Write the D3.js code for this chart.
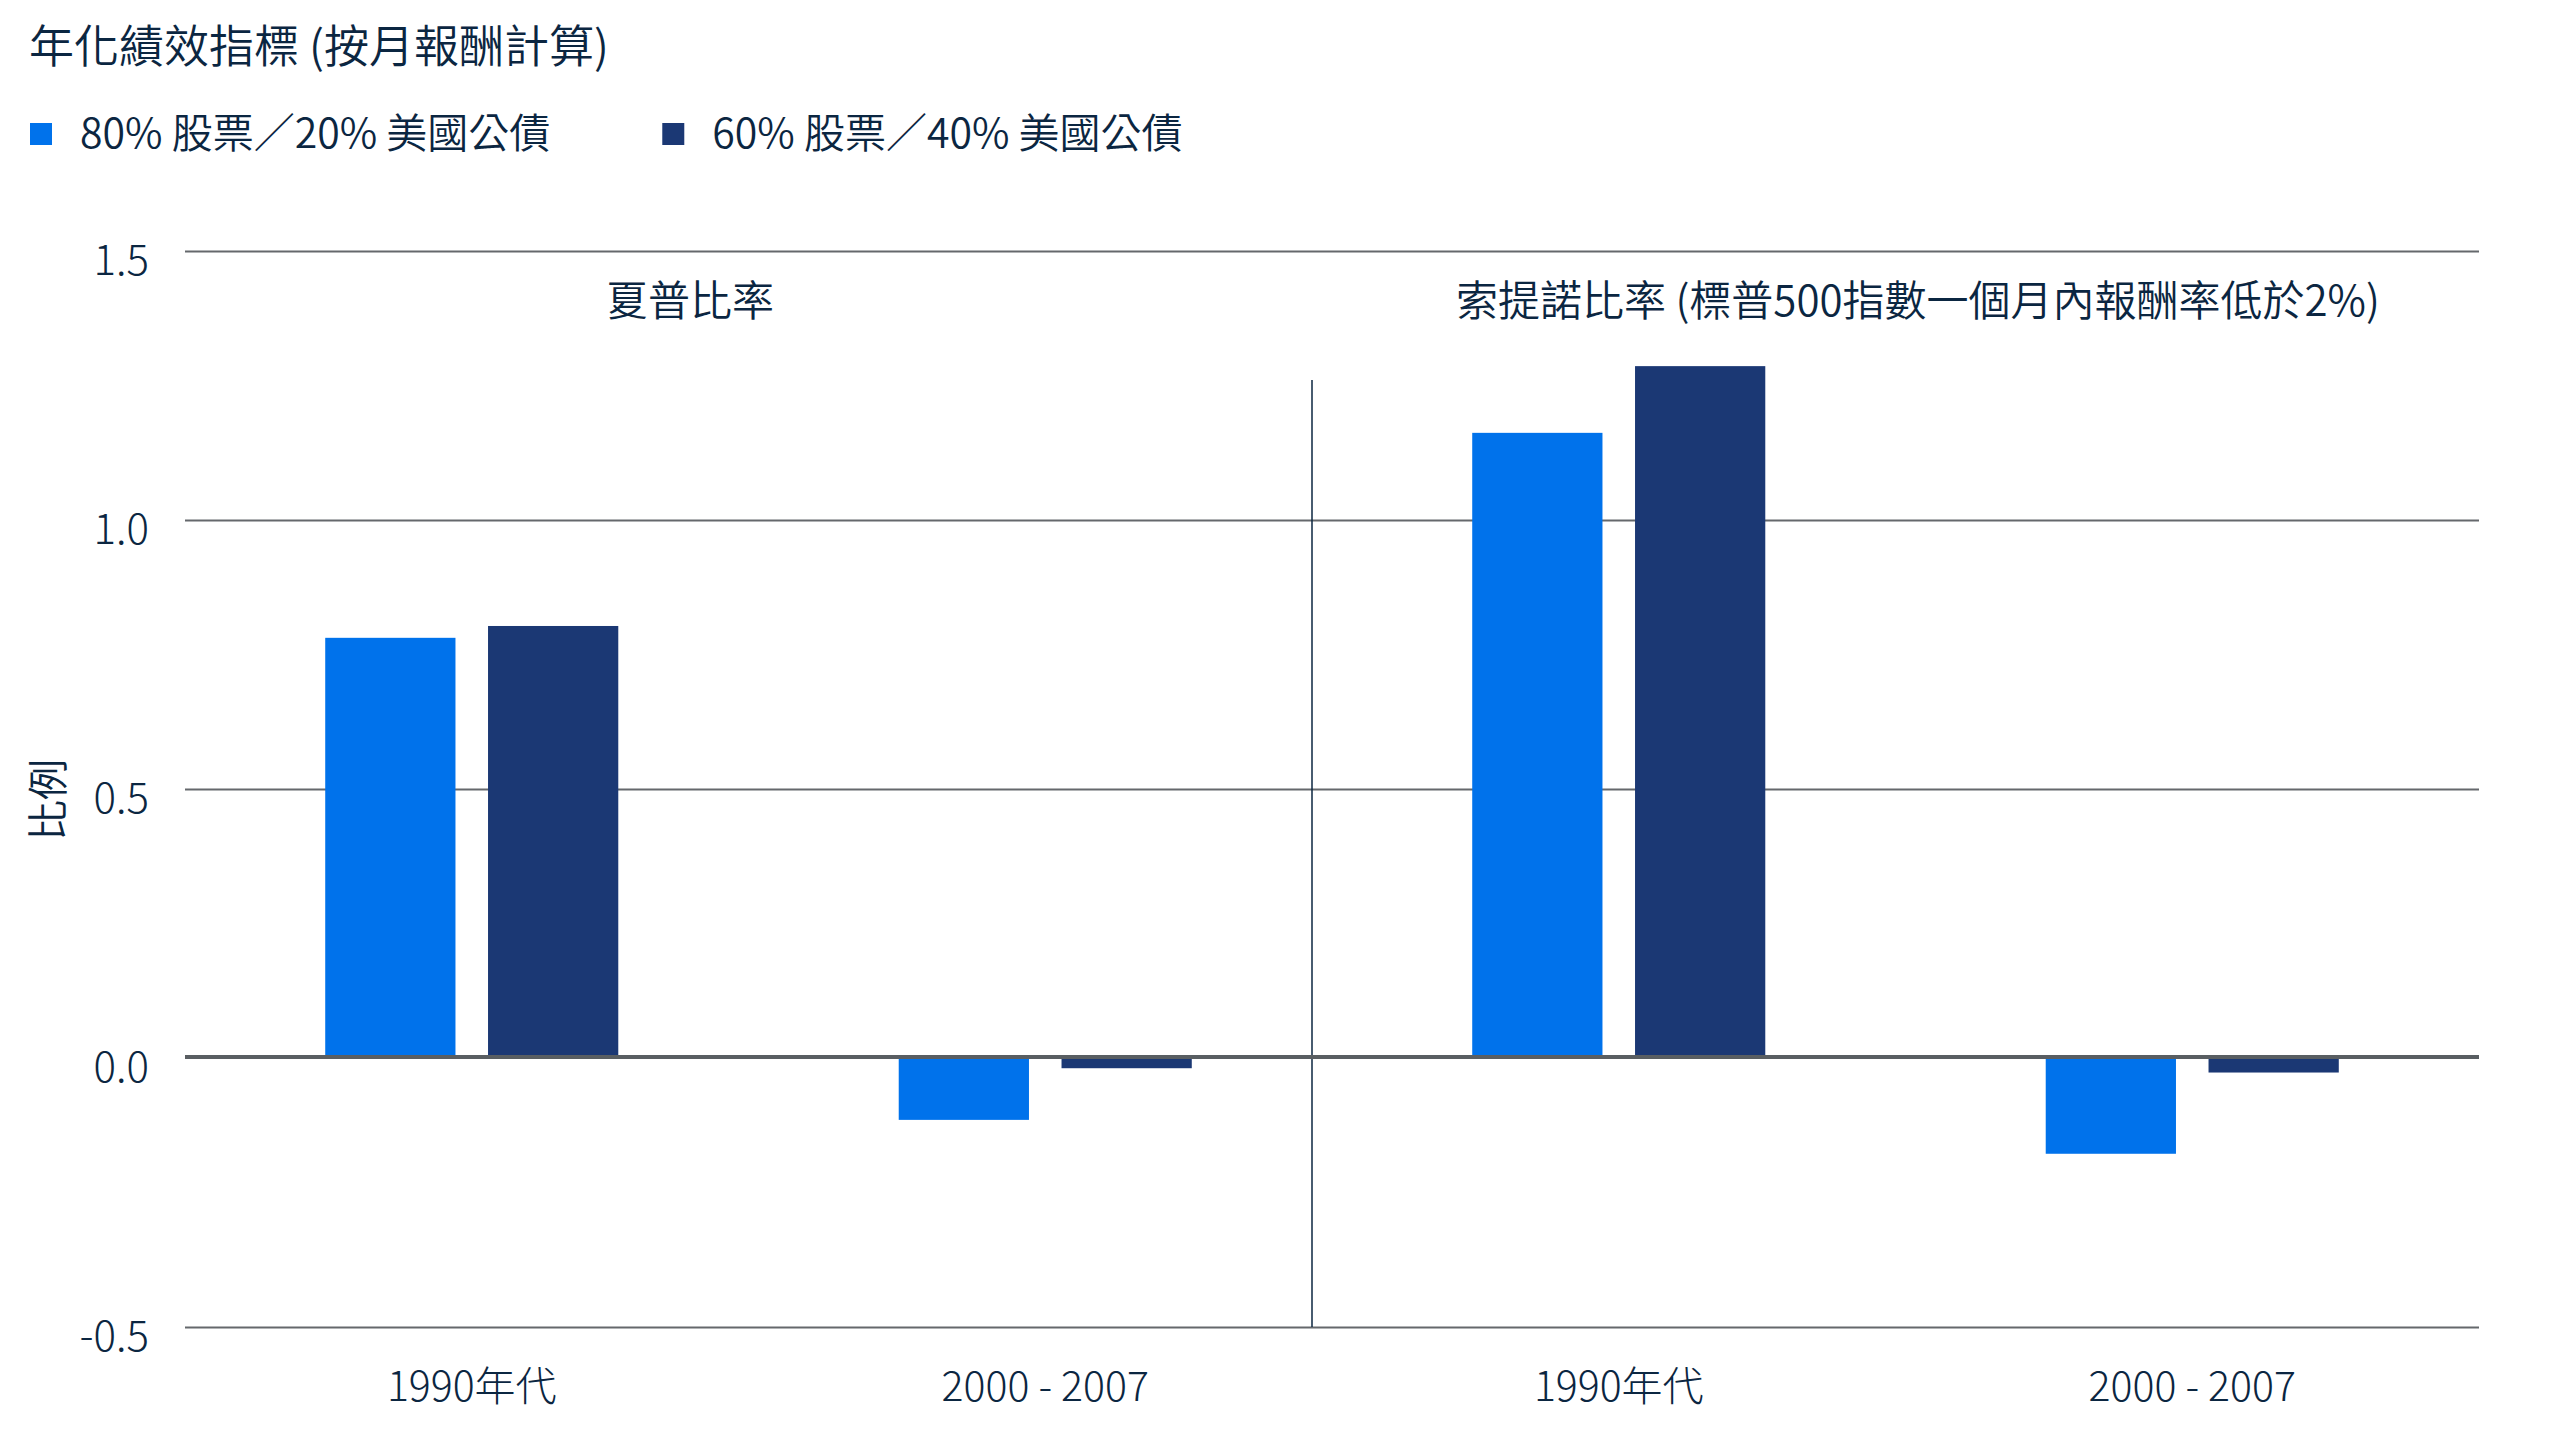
<!DOCTYPE html>
<meta charset="utf-8">
<style>
  body { margin: 0; background: #fff; }
  svg text { font-family: "Noto Sans CJK TC", "Noto Sans", sans-serif; fill: #0b2641; }
</style>
<div id="chart"></div>
<script src="https://cdn.jsdelivr.net/npm/d3@7"></script>
<script>
    // data
    var facets = ["夏普比率", "索提諾比率 (標普500指數一個月內報酬率低於2%)"];
    var periods = ["1990年代", "2000 - 2007"];
    var seriesNames = ["80% 股票／20% 美國公債", "60% 股票／40% 美國公債"];
    var sharpe80 = [0.781, -0.115];
    var sharpe60 = [0.803, -0.019];
    var sortino80 = [1.162, -0.178];
    var sortino60 = [1.286, -0.027];
    var yTicks = [-0.5, 0, 0.5, 1.0, 1.5];
    var yTickLabels = ["-0.5", "0.0", "0.5", "1.0", "1.5"];
    var chartTitle = "年化績效指標 (按月報酬計算)";
    var yTitle = "比例";

    var colors = ["#0072EB", "#1B3874"];
    var width = 2560, height = 1440;
    var plotLeft = 185, plotRight = 2479, plotTop = 251, plotBottom = 1327;

    var svg = d3.select("#chart").append("svg").attr("width", width).attr("height", height);

    var rows = [];
    [[sharpe80, sharpe60], [sortino80, sortino60]].forEach(function(f, fi) {
        periods.forEach(function(p, pi) {
            seriesNames.forEach(function(s, si) {
                rows.push({facet: facets[fi], period: p, series: s, value: f[si][pi]});
            });
        });
    });

    // scales
    var y = d3.scaleLinear().domain([-0.5, 1.5]).range([plotBottom, plotTop]);
    var fx = d3.scaleBand().domain(facets).range([plotLeft, plotRight]);
    var x0 = d3.scaleBand().domain(periods).range([0, fx.bandwidth()]).paddingInner(0.489).paddingOuter(0.2445);
    var x1 = d3.scaleBand().domain(seriesNames).range([0, x0.bandwidth()]).paddingInner(0.2);
    var color = d3.scaleOrdinal().domain(seriesNames).range(colors);

    // title
    svg.append("text").attr("x", 29).attr("y", 63)
        .style("font-size", "45px").style("font-weight", 350).text(chartTitle);

    // legend
    var lx = 30;
    seriesNames.forEach(function(s) {
        var g = svg.append("g").attr("transform", "translate(" + lx + ",0)");
        g.append("rect").attr("x", 0).attr("y", 123).attr("width", 22).attr("height", 22).attr("fill", color(s));
        var t = g.append("text").attr("x", 50).attr("y", 148)
            .style("font-size", "41px").style("font-weight", 350).text(s);
        lx += 50 + t.node().getComputedTextLength() + 112;
    });

    // gridlines + y labels
    var yAxis = svg.append("g")
        .attr("transform", "translate(" + plotLeft + ",0)")
        .call(d3.axisLeft(y).tickValues(yTicks).tickSize(-(plotRight - plotLeft)).tickPadding(36)
            .tickFormat(function(d, i) { return yTickLabels[i]; }));
    yAxis.select(".domain").remove();
    yAxis.selectAll(".tick line").attr("stroke", "#65686c").attr("stroke-width", 2)
        .filter(function(d) { return d === 0; }).remove();
    yAxis.selectAll(".tick text")
        .attr("dy", "0.55em")
        .style("font-size", "42px").style("font-weight", 300)
        .attr("fill", "#0b2641");

    // y title
    svg.append("text")
        .attr("transform", "translate(63,800) rotate(-90)")
        .attr("text-anchor", "middle")
        .style("font-size", "41px").style("font-weight", 350)
        .text(yTitle);

    // facet separator
    svg.append("line")
        .attr("x1", fx(facets[1]) - 20).attr("x2", fx(facets[1]) - 20)
        .attr("y1", 380).attr("y2", plotBottom)
        .attr("stroke", "#0b2641").attr("stroke-width", 1.5);

    // facet titles
    var facetCenters = [(48 + fx(facets[1])) / 2, (fx(facets[1]) + 2504) / 2];
    facets.forEach(function(f, i) {
        svg.append("text")
            .attr("x", facetCenters[i]).attr("y", 316)
            .attr("text-anchor", "middle")
            .style("font-size", "42px").style("font-weight", 350)
            .text(f);
    });

    // bars
    svg.selectAll("rect.bar")
        .data(rows)
        .enter()
        .append("rect")
        .attr("class", "bar")
        .attr("x", function(d) { return fx(d.facet) + x0(d.period) + x1(d.series); })
        .attr("width", x1.bandwidth())
        .attr("y", function(d) { return y(Math.max(0, d.value)); })
        .attr("height", function(d) { return Math.abs(y(d.value) - y(0)); })
        .attr("fill", function(d) { return color(d.series); });

    // zero line on top
    svg.append("line")
        .attr("x1", plotLeft).attr("x2", plotRight)
        .attr("y1", y(0) - 1).attr("y2", y(0) - 1)
        .attr("stroke", "#595e62").attr("stroke-width", 4);

    // x labels
    facets.forEach(function(f) {
        periods.forEach(function(p) {
            svg.append("text")
                .attr("x", fx(f) + x0(p) + x0.bandwidth() / 2)
                .attr("y", 1401)
                .attr("text-anchor", "middle")
                .style("font-size", "41px").style("font-weight", 300)
                .text(p);
        });
    });
</script>
